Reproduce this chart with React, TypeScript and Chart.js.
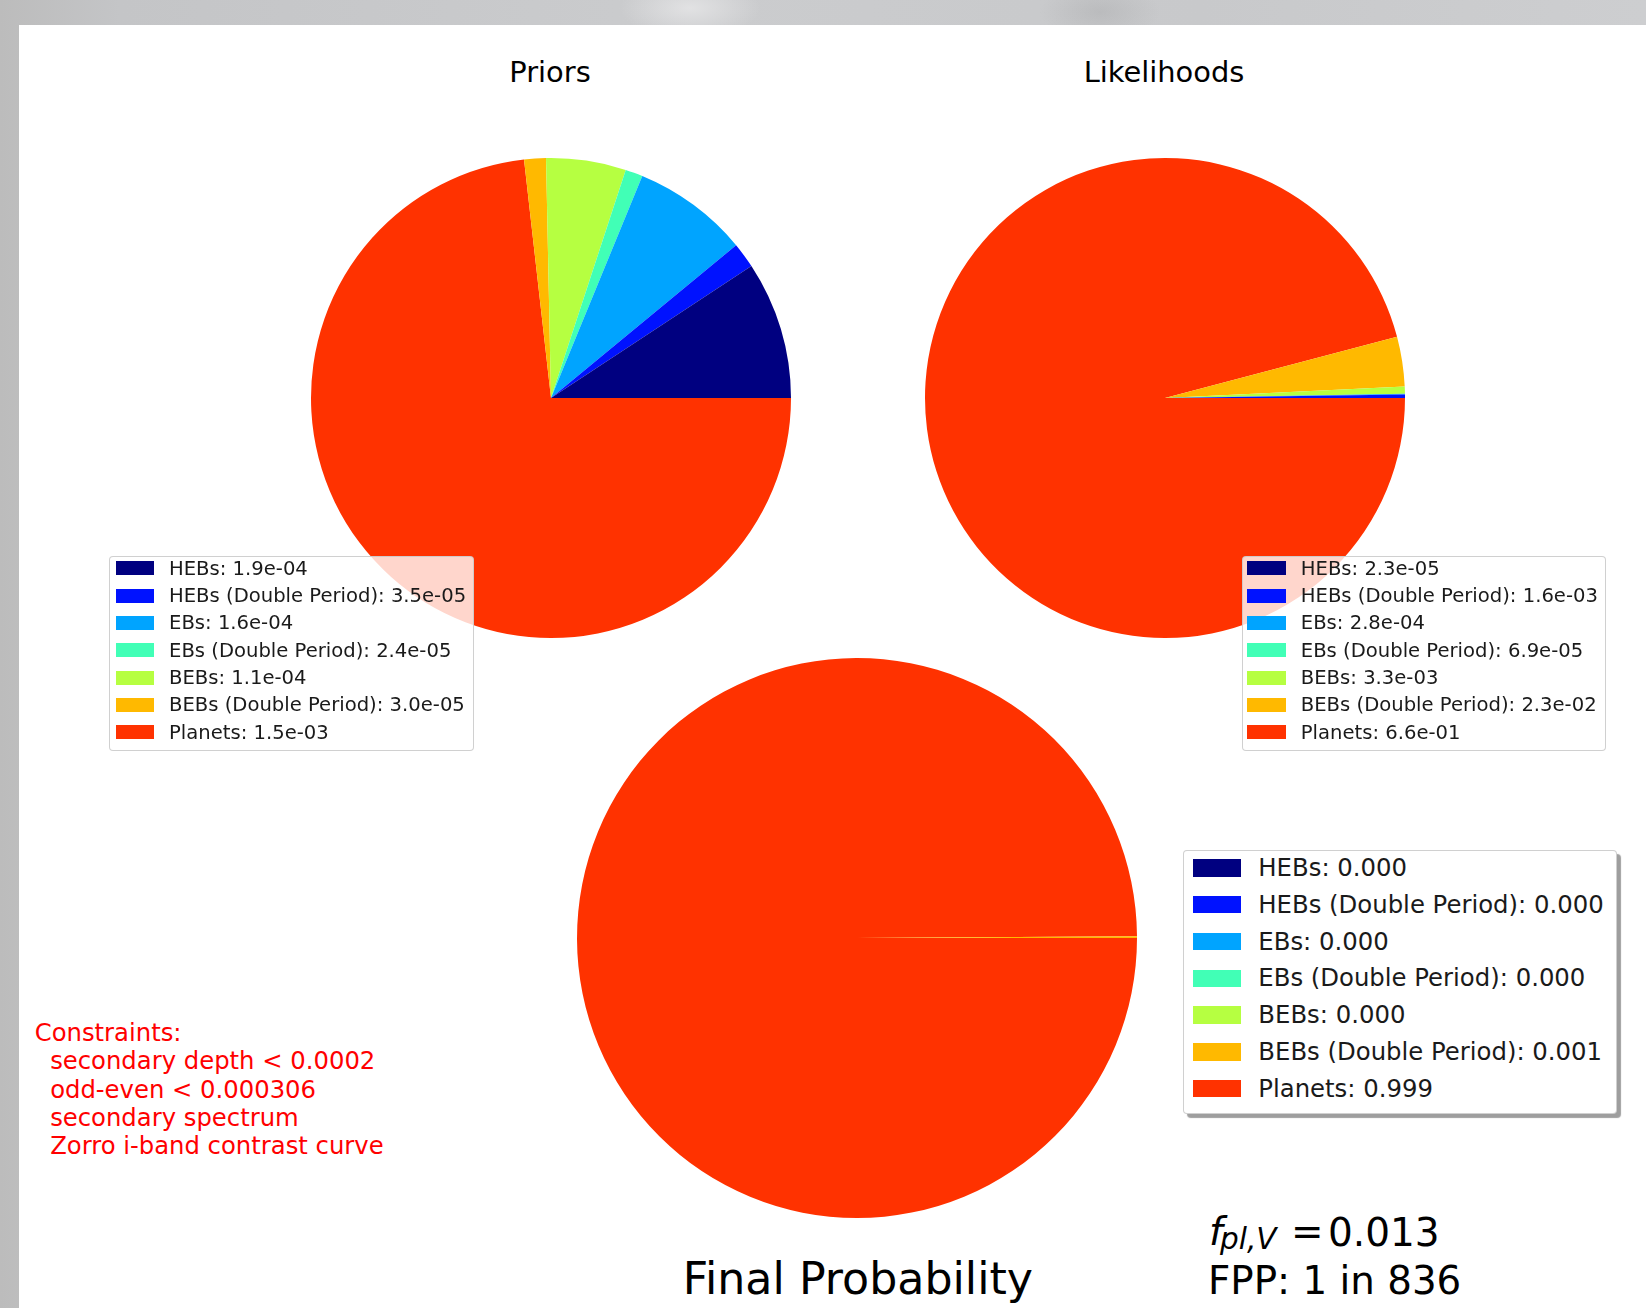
import React, { useEffect, useRef } from "react";
import { Chart, registerables } from "chart.js";

Chart.register(...registerables);

// Scenario names, in legend order
const categories = [
  "HEBs",
  "HEBs (Double Period)",
  "EBs",
  "EBs (Double Period)",
  "BEBs",
  "BEBs (Double Period)",
  "Planets",
];

// Jet colormap sampled at 0, 1/7, ... 6/7
const sliceColors = ["#000080", "#0012ff", "#00a4ff", "#41ffb6", "#b6ff41", "#ffb900", "#ff3200"];

const priorValues = [1.9e-4, 3.5e-5, 1.6e-4, 2.4e-5, 1.1e-4, 3.0e-5, 1.5e-3];
const likelihoodValues = [2.3e-5, 1.6e-3, 2.8e-4, 6.9e-5, 3.3e-3, 2.3e-2, 6.6e-1];
const finalValues = [0.0, 0.0, 0.0, 0.0, 0.0, 0.001, 0.999];

const constraintLines = [
  "Constraints:",
  "  secondary depth < 0.0002",
  "  odd-even < 0.000306",
  "  secondary spectrum",
  "  Zorro i-band contrast curve",
];

const fplValue = "0.013";
const fppText = "FPP: 1 in 836";

const FONT = '"DejaVu Sans", "Noto Sans", sans-serif';

// 1.9e-4 -> "1.9e-04"
function fmtExp(v: number): string {
  const [m, e] = v.toExponential(1).split("e");
  const neg = e[0] === "-";
  const digits = e.replace(/^[+-]/, "").padStart(2, "0");
  return `${m}e${neg ? "-" : "+"}${digits}`;
}
function fmtFixed(v: number): string {
  return v.toFixed(3);
}

// Absolutely placed text with its baseline at y
function textAt(x: number, baseline: number, size: number, extra: React.CSSProperties = {}): React.CSSProperties {
  return {
    position: "absolute",
    left: x,
    top: baseline - 0.846 * size,
    fontFamily: FONT,
    fontSize: size,
    lineHeight: `${size}px`,
    whiteSpace: "pre",
    color: "#000",
    ...extra,
  };
}

type PieProps = { values: number[]; cx: number; cy: number; radius: number };

function PieChart({ values, cx, cy, radius }: PieProps) {
  const ref = useRef<HTMLCanvasElement>(null);
  useEffect(() => {
    // First wedge starts at 3 o'clock and runs counter-clockwise,
    // so feed the slices in reverse and sweep clockwise from 3 o'clock.
    const order = values.map((_, i) => values.length - 1 - i);
    const chart = new Chart(ref.current!, {
      type: "pie",
      data: {
        labels: order.map((i) => categories[i]),
        datasets: [
          {
            data: order.map((i) => values[i]),
            backgroundColor: order.map((i) => sliceColors[i]),
            borderWidth: 0,
            hoverOffset: 0,
            offset: 0,
          },
        ],
      },
      options: {
        responsive: false,
        animation: false,
        rotation: 90,
        radius: radius,
        layout: { padding: 0 },
        events: [],
        plugins: { legend: { display: false }, tooltip: { enabled: false } },
      },
    });
    return () => chart.destroy();
  }, []);
  const size = radius * 2 + 4;
  return (
    <canvas
      ref={ref}
      width={size}
      height={size}
      style={{ position: "absolute", left: cx - size / 2, top: cy - size / 2, width: size, height: size }}
    />
  );
}

type LegendCfg = {
  x: number;
  y: number;
  w: number;
  h: number;
  patchX: number;
  patchW: number;
  patchH: number;
  textX: number;
  baseline0: number;
  step: number;
  font: number;
  shadow?: boolean;
};

function Legend({ cfg, labels }: { cfg: LegendCfg; labels: string[] }) {
  return (
    <>
      <div
        style={{
          position: "absolute",
          left: cfg.x,
          top: cfg.y,
          width: cfg.w,
          height: cfg.h,
          boxSizing: "border-box",
          background: cfg.shadow ? "#fff" : "rgba(255,255,255,0.8)",
          border: "1.5px solid rgba(200,200,200,0.85)",
          borderRadius: 4,
          boxShadow: cfg.shadow ? "4px 4px 1px rgba(0,0,0,0.38)" : "none",
        }}
      />
      {categories.map((c, i) => {
        const base = cfg.baseline0 + i * cfg.step;
        return (
          <React.Fragment key={c}>
            <div
              style={{
                position: "absolute",
                left: cfg.patchX,
                top: base - cfg.patchH,
                width: cfg.patchW,
                height: cfg.patchH,
                background: sliceColors[i],
              }}
            />
            <div style={textAt(cfg.textX, base, cfg.font, { color: "#1a1a1a" })}>
              {c}: {labels[i]}
            </div>
          </React.Fragment>
        );
      })}
    </>
  );
}

const priorLegend: LegendCfg = {
  x: 109, y: 555.5, w: 365, h: 195.5,
  patchX: 115.7, patchW: 38.6, patchH: 14,
  textX: 169, baseline0: 575.3, step: 27.33, font: 19.6,
};
const likelihoodLegend: LegendCfg = {
  x: 1241.7, y: 555.7, w: 364, h: 195.3,
  patchX: 1247.3, patchW: 38.7, patchH: 14,
  textX: 1300.8, baseline0: 575.3, step: 27.33, font: 19.6,
};
const finalLegend: LegendCfg = {
  x: 1183.3, y: 850, w: 433.4, h: 264,
  patchX: 1193.3, patchW: 47.4, patchH: 17.4,
  textX: 1258.3, baseline0: 876.7, step: 36.77, font: 24.35, shadow: true,
};

export default function App() {
  return (
    <div
      style={{
        position: "fixed",
        left: 0,
        top: 0,
        width: 1646,
        height: 1308,
        overflow: "hidden",
        background:
          "radial-gradient(ellipse 70px 30px at 690px 8px, rgba(235,235,236,0.7), rgba(235,235,236,0)), " +
          "radial-gradient(ellipse 60px 30px at 1100px 12px, rgba(175,176,178,0.55), rgba(175,176,178,0)), " +
          "linear-gradient(90deg, #bcbcbc 0px, #c4c5c7 120px, #cbccce 700px, #c8c9cb 1200px, #cdced0 1646px)",
      }}
    >
      <div style={{ position: "absolute", left: 19, top: 25, right: 0, bottom: 0, background: "#fff" }} />

      <PieChart values={priorValues} cx={551} cy={398} radius={240} />
      <PieChart values={likelihoodValues} cx={1165} cy={397.5} radius={240} />
      <PieChart values={finalValues} cx={856.5} cy={938} radius={280} />

      <div style={textAt(550, 82.3, 28.9, { transform: "translateX(-50%)" })}>Priors</div>
      <div style={textAt(1164, 82.3, 28.9, { transform: "translateX(-50%)" })}>Likelihoods</div>
      <div style={textAt(857.9, 1294, 44.3, { transform: "translateX(-50%)" })}>Final Probability</div>

      <Legend cfg={priorLegend} labels={priorValues.map(fmtExp)} />
      <Legend cfg={likelihoodLegend} labels={likelihoodValues.map(fmtExp)} />
      <Legend cfg={finalLegend} labels={finalValues.map(fmtFixed)} />

      {constraintLines.map((line, i) => (
        <div key={i} style={textAt(34.7, 1041.7 + i * 28.3, 24.3, { color: "#ff0000" })}>
          {line}
        </div>
      ))}

      <div style={textAt(1209, 1245.7, 38.8, { fontStyle: "italic" })}>f</div>
      <div style={textAt(1220, 1250, 29.5, { fontStyle: "italic" })}>pl,V</div>
      <div style={textAt(1291, 1245.7, 38.8)}>=</div>
      <div style={textAt(1328, 1245.7, 39)}>{fplValue}</div>
      <div style={textAt(1208, 1295, 38.8)}>{fppText}</div>
    </div>
  );
}
